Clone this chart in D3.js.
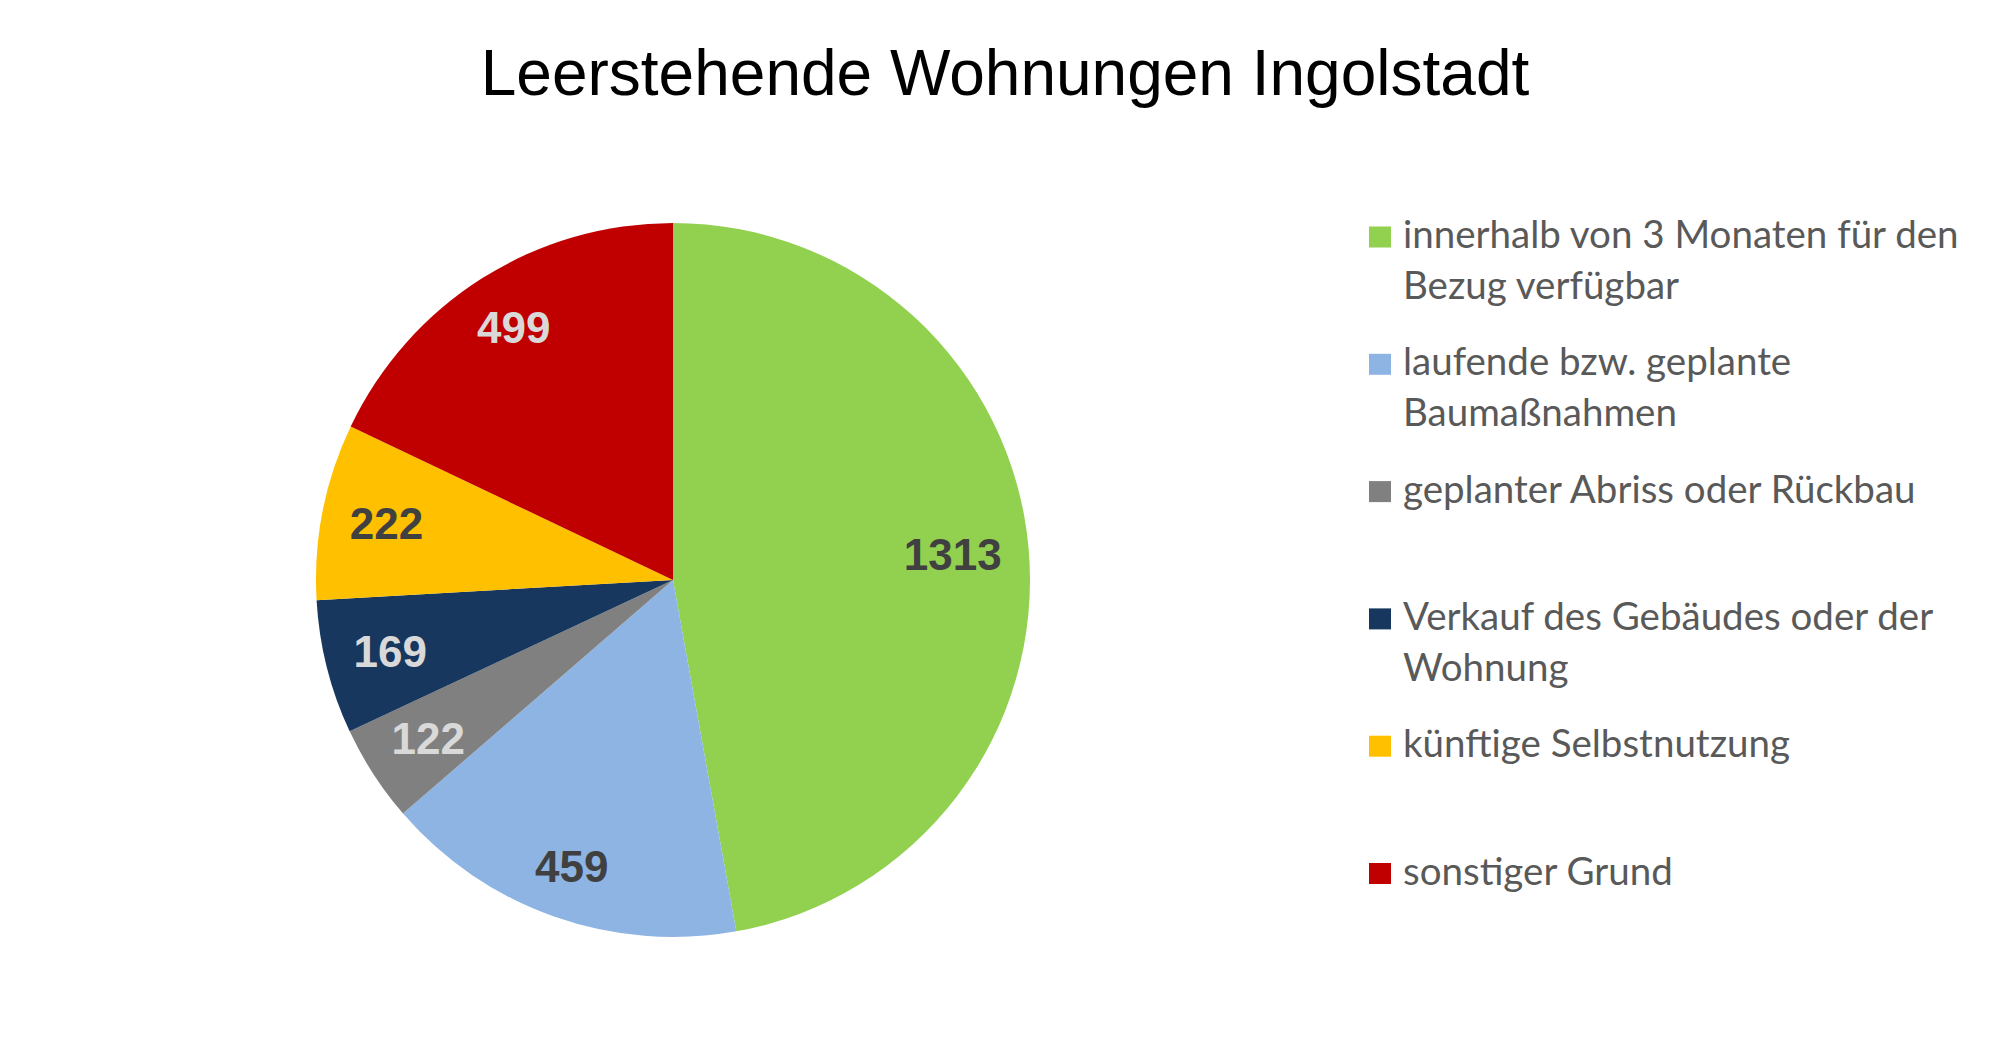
<!DOCTYPE html>
<html>
<head>
<meta charset="utf-8">
<script src="https://cdn.jsdelivr.net/npm/d3@7"></script>
<style>
    body { margin: 0; background: #fff; }
</style>
</head>
<body>
<div id="container"></div>
<script>
// Chart data
const title = "Leerstehende Wohnungen Ingolstadt";
const categories = [
    "innerhalb von 3 Monaten für den Bezug verfügbar",
    "laufende bzw. geplante Baumaßnahmen",
    "geplanter Abriss oder Rückbau",
    "Verkauf des Gebäudes oder der Wohnung",
    "künftige Selbstnutzung",
    "sonstiger Grund"
];
const values = [1313, 459, 122, 169, 222, 499];
const colors = ["#92D050", "#8DB4E2", "#808080", "#17375E", "#FFC000", "#C00000"];

const width = 2005;
const height = 1045;

const svg = d3.select("#container").append("svg")
    .attr("width", width)
    .attr("height", height);

// Title
svg.append("text")
    .attr("x", 1005)
    .attr("y", 95)
    .attr("text-anchor", "middle")
    .attr("font-family", "'Liberation Sans', Arial, sans-serif")
    .attr("font-size", 64)
    .attr("fill", "#000")
    .text(title);

// Pie
const cx = 673, cy = 580, radius = 357;
const pie = d3.pie().sort(null).value(d => d.value);
const arc = d3.arc().innerRadius(0).outerRadius(radius);
const color = d3.scaleOrdinal().domain(categories).range(colors);

const rows = categories.map((c, i) => ({ name: c, value: values[i] }));
const arcs = pie(rows);

const g = svg.append("g").attr("transform", `translate(${cx},${cy})`);

g.selectAll("path")
    .data(arcs)
    .join("path")
    .attr("d", arc)
    .attr("fill", d => color(d.data.name));

// Data labels ("inside end" style: box pushed out until it touches the edge)
const labelEdge = radius - 26;
const labelH = 31;
g.selectAll("text")
    .data(arcs)
    .join("text")
    .attr("text-anchor", "middle")
    .attr("dy", "0.35em")
    .attr("font-family", "'Liberation Sans', Arial, sans-serif")
    .attr("font-weight", "bold")
    .attr("font-size", 44)
    .attr("fill", d => d3.lab(color(d.data.name)).l < 60 ? "#D9D9D9" : "#404040")
    .text(d => d.data.value)
    .each(function (d) {
        const a = (d.startAngle + d.endAngle) / 2;
        const ux = Math.sin(a), uy = -Math.cos(a);
        const w = this.getComputedTextLength();
        const dist = labelEdge - (Math.abs(ux) * w / 2 + Math.abs(uy) * labelH / 2);
        d3.select(this).attr("x", ux * dist).attr("y", uy * dist);
    });

// Legend
const legendX = 1369, legendTop = 237, legendStep = 127.3;
const swatch = 21, lineH = 51, wrapWidth = 565;

const legend = svg.append("g")
    .attr("font-family", "Lato, 'Open Sans', sans-serif")
    .attr("font-size", 38.5)
    .attr("fill", "#595959");

const item = legend.selectAll("g")
    .data(categories)
    .join("g")
    .attr("transform", (d, i) => `translate(${legendX},${legendTop + i * legendStep})`);

item.append("rect")
    .attr("x", 0)
    .attr("y", -swatch / 2)
    .attr("width", swatch + 1)
    .attr("height", swatch)
    .attr("fill", d => color(d));

item.append("text")
    .attr("x", 34)
    .attr("y", 11)
    .each(function (d) {
        const text = d3.select(this);
        const words = d.split(" ");
        let line = [];
        let tspan = text.append("tspan").attr("x", 34).attr("dy", 0);
        words.forEach(word => {
            line.push(word);
            tspan.text(line.join(" "));
            if (tspan.node().getComputedTextLength() > wrapWidth && line.length > 1) {
                line.pop();
                tspan.text(line.join(" "));
                line = [word];
                tspan = text.append("tspan").attr("x", 34).attr("dy", lineH).text(word);
            }
        });
    });
</script>
</body>
</html>
